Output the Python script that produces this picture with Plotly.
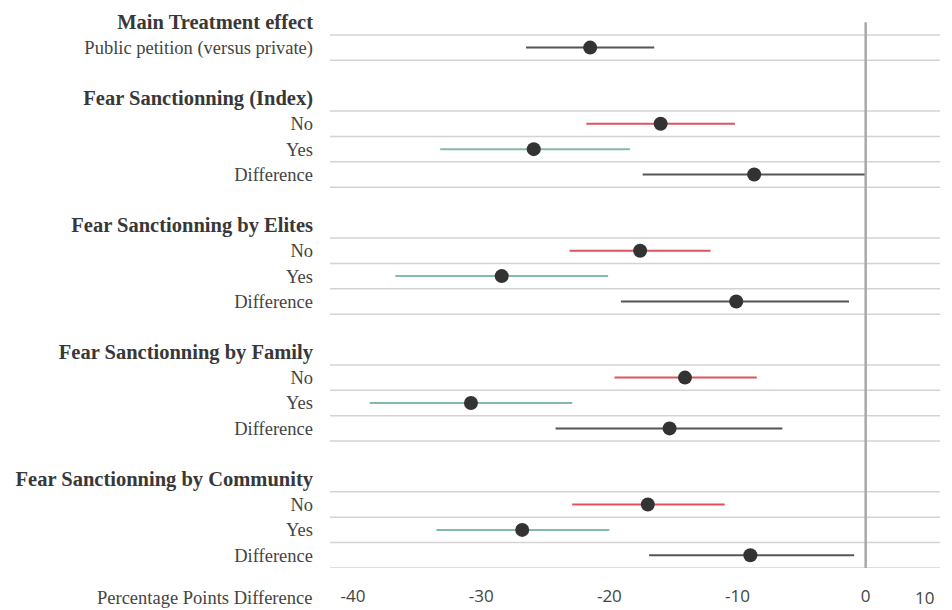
import plotly.graph_objects as go

# Section headers and the sub-rows under each
sections = [
    "Main Treatment effect",
    "Fear Sanctionning (Index)",
    "Fear Sanctionning by Elites",
    "Fear Sanctionning by Family",
    "Fear Sanctionning by Community",
]
section_items = [
    ["Public petition (versus private)"],
    ["No", "Yes", "Difference"],
    ["No", "Yes", "Difference"],
    ["No", "Yes", "Difference"],
    ["No", "Yes", "Difference"],
]

# Estimates and 95% intervals (percentage points), in row order
estimates = [-21.5, -16.0, -25.9, -8.7, -17.6, -28.4, -10.1, -14.1, -30.8, -15.3, -17.0, -26.8, -9.0]
ci_low = [-26.5, -21.8, -33.2, -17.4, -23.1, -36.7, -19.1, -19.6, -38.7, -24.2, -22.9, -33.5, -16.9]
ci_high = [-16.5, -10.2, -18.4, 0.0, -12.1, -20.1, -1.3, -8.5, -22.9, -6.5, -11.0, -20.0, -0.9]

x_ticks = [-40, -30, -20, -10, 0]
x_label = "Percentage Points Difference"

LABEL_FONT = "Liberation Serif, DejaVu Serif, serif"
TICK_FONT = "Open Sans, Noto Sans, sans-serif"
COLORS = {"No": "#e0535e", "Yes": "#86b9ad", "other": "#555555"}

# Build row layout: header, items, blank spacer between sections
tickvals, ticktext = [], []
data_rows, data_kind = [], []
row = 0
for s, (head, items) in enumerate(zip(sections, section_items)):
    if s > 0:
        row += 1  # spacer
    tickvals.append(row)
    ticktext.append(f'<span style="font-size:20.5px;color:#383838;"><b>{head}</b></span>')
    row += 1
    for it in items:
        tickvals.append(row)
        ticktext.append(it)
        data_rows.append(row)
        data_kind.append(it if it in ("No", "Yes") else "other")
        row += 1
last_row = row - 1

fig = go.Figure()

# Interval lines, one trace per colour group
for kind, color in COLORS.items():
    xs, ys = [], []
    for r, k, lo, hi in zip(data_rows, data_kind, ci_low, ci_high):
        if k == kind:
            xs += [lo, hi, None]
            ys += [r, r, None]
    fig.add_trace(go.Scatter(x=xs, y=ys, mode="lines",
                             line=dict(color=color, width=2),
                             hoverinfo="skip", showlegend=False))

# Point estimates
fig.add_trace(go.Scatter(x=estimates, y=data_rows, mode="markers",
                         marker=dict(color="#333333", size=14),
                         showlegend=False))

# Horizontal separators above and below every data row
sep = sorted({r - 0.5 for r in data_rows} | {r + 0.5 for r in data_rows})
for yv in sep:
    fig.add_shape(type="line", xref="x domain", yref="y", x0=0, x1=1, y0=yv, y1=yv,
                  line=dict(color="#d3d3d3", width=1.5), layer="below")

# Zero reference line
fig.add_shape(type="line", xref="x", yref="y", x0=0, x1=0, y0=0, y1=last_row + 0.5,
              line=dict(color="#a8a8a8", width=2.5), layer="above")

fig.add_annotation(text=x_label, xref="paper", yref="paper", x=0, y=0,
                   xanchor="right", yanchor="top", xshift=-16, yshift=-18,
                   showarrow=False, font=dict(family=LABEL_FONT, size=18.5, color="#444444"))
fig.add_annotation(text="10", xref="x domain", yref="paper", x=1, y=0,
                   xanchor="right", yanchor="top", xshift=-4, yshift=-16,
                   showarrow=False, font=dict(family=TICK_FONT, size=17, color="#444444"))

fig.update_layout(
    width=952, height=610,
    margin=dict(l=330, r=12, t=7, b=42, autoexpand=False),
    plot_bgcolor="white", paper_bgcolor="white",
    xaxis=dict(range=[-41.8, 5.8], tickvals=x_ticks, ticktext=[str(v) for v in x_ticks],
               showgrid=False, zeroline=False, automargin=False,
               showline=False, ticks="", ticklabelstandoff=16,
               tickfont=dict(family=TICK_FONT, size=17, color="#444444")),
    yaxis=dict(range=[last_row + 0.5, -0.6], tickvals=tickvals, ticktext=ticktext,
               showgrid=False, zeroline=False, showline=False, ticks="",
               ticklabelstandoff=16, automargin=False,
               tickfont=dict(family=LABEL_FONT, size=18.5, color="#444444")),
)

fig.write_html("out.html")
